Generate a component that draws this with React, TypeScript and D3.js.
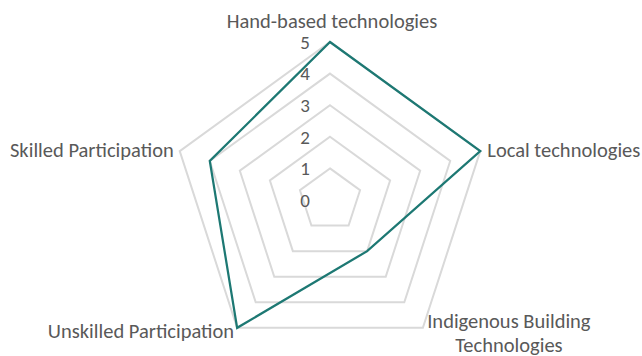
import { useEffect, useRef } from "react";
import * as d3 from "d3";

const categories = [
  "Hand-based technologies",
  "Local technologies",
  "Indigenous Building Technologies",
  "Unskilled Participation",
  "Skilled Participation",
];
const values = [5, 5, 2, 5, 4];
const ticks = [0, 1, 2, 3, 4, 5];

const App = () => {
  const ref = useRef<SVGSVGElement>(null);

  useEffect(() => {
    const width = 642;
    const height = 356;
    const cx = 330;
    const cy = 200;
    const R = 158;
    const font = "Carlito, Lato, 'Open Sans', sans-serif";

    const svg = d3.select(ref.current);
    svg.selectAll("*").remove();

    const r = d3.scaleLinear().domain([0, 5]).range([0, R]);
    const angle = d3
      .scaleLinear()
      .domain([0, categories.length])
      .range([0, 2 * Math.PI]);

    const pt = (i: number, v: number): [number, number] => [
      cx + r(v) * Math.sin(angle(i)),
      cy - r(v) * Math.cos(angle(i)),
    ];

    const g = svg.append("g");
    const line = d3.line<[number, number]>().curve(d3.curveLinearClosed);

    // grid rings
    ticks
      .filter((t) => t > 0)
      .forEach((t) => {
        g.append("path")
          .attr("d", line(categories.map((_, i) => pt(i, t))))
          .attr("fill", "none")
          .attr("stroke", "#d9d9d9")
          .attr("stroke-width", 2);
      });

    // data
    g.append("path")
      .attr("d", line(values.map((v, i) => pt(i, v))))
      .attr("fill", "none")
      .attr("stroke", "#1d7873")
      .attr("stroke-width", 2.25)
      .attr("stroke-linejoin", "miter");

    // tick labels
    g.selectAll(".tick")
      .data(ticks)
      .enter()
      .append("text")
      .attr("x", cx - 20)
      .attr("y", (d) => cy - r(d))
      .attr("dy", "0.36em")
      .attr("text-anchor", "end")
      .attr("font-family", font)
      .attr("font-size", 19)
      .attr("fill", "#595959")
      .text((d) => d);

    // category labels
    const lab = (t: string, x: number, y: number, anchor: string) =>
      g.append("text")
        .attr("x", x)
        .attr("y", y)
        .attr("text-anchor", anchor)
        .attr("font-family", font)
        .attr("font-size", 20.5)
        .attr("fill", "#595959")
        .text(t);

    const [tx, ty] = pt(0, 5);
    lab(categories[0], tx + 2, ty - 14, "middle");
    const [rx, ry] = pt(1, 5);
    lab(categories[1], rx + 7, ry + 6, "start");
    const [bx, by] = pt(2, 5);
    lab("Indigenous Building", bx + 86, by, "middle");
    lab("Technologies", bx + 86, by + 24, "middle");
    const [ux, uy] = pt(3, 5);
    lab(categories[3], ux - 3, uy + 10, "end");
    const [sx, sy] = pt(4, 5);
    lab(categories[4], sx - 6, sy + 6, "end");

    svg.attr("width", width).attr("height", height);
  }, []);

  return (
    <svg
      ref={ref}
      width={642}
      height={356}
      style={{ position: "absolute", left: 0, top: 0, background: "#fff" }}
    />
  );
};

export default App;
